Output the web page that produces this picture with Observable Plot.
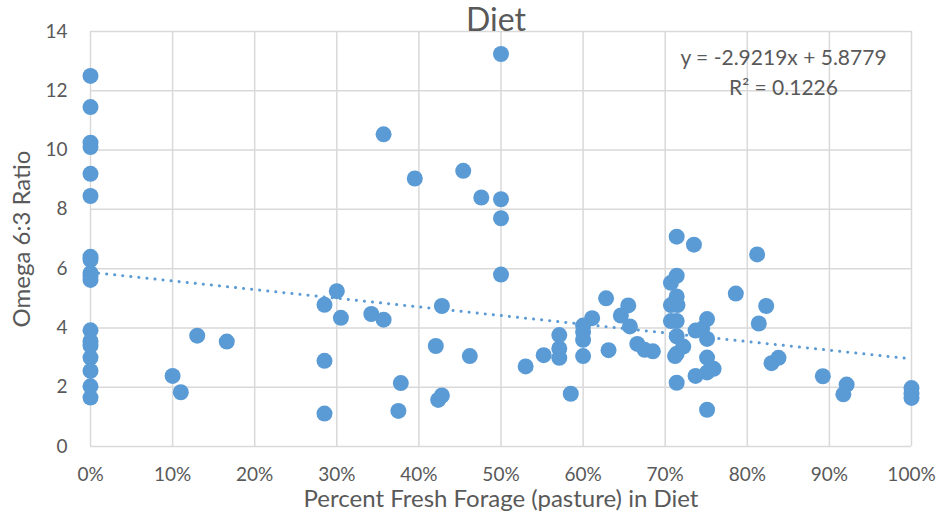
<!DOCTYPE html>
<html>
<head>
<meta charset="utf-8">
<script src="https://cdn.jsdelivr.net/npm/d3@7"></script>
<script src="https://cdn.jsdelivr.net/npm/@observablehq/plot@0.6"></script>
<style>
  html, body { margin: 0; padding: 0; background: #ffffff; }
  #chart { width: 940px; height: 514px; }
</style>
</head>
<body>
<div id="chart"></div>
<script>
// Fraction of fresh forage (pasture) in diet
const forage = [
  0,0,0,0,0,0,0,0,0,0,0,0,0,0,0,0,0,0,
  0.100,0.110,0.130,0.166,
  0.285,0.285,0.285,0.300,0.305,0.342,0.357,0.357,0.375,0.378,0.395,
  0.4206,0.4235,0.428,0.428,0.454,0.462,0.476,
  0.500,0.500,0.500,0.500,
  0.530,0.552,0.571,0.571,0.571,0.585,
  0.600,0.600,0.600,0.600,0.611,0.628,0.631,0.646,0.655,0.657,0.666,0.675,0.685,
  0.707,0.707,0.707,
  0.714,0.714,0.714,0.714,0.714,0.714,0.714,0.715,0.712,0.722,
  0.735,0.737,0.737,0.745,
  0.751,0.751,0.751,0.751,0.751,0.759,
  0.786,0.812,0.814,0.823,0.8295,0.838,0.892,0.917,0.921,
  1.0,1.0,1.0
];
// Omega 6:3 ratio
const ratio = [
  12.5,11.45,10.25,10.1,9.2,8.45,6.4,6.3,5.85,5.75,5.62,3.92,3.55,3.4,3.0,2.55,2.03,1.65,
  2.38,1.83,3.74,3.54,
  4.78,2.89,1.11,5.24,4.34,4.47,4.28,10.53,1.2,2.14,9.04,
  3.39,1.57,1.72,4.74,9.3,3.05,8.4,
  13.24,8.34,7.7,5.8,
  2.7,3.08,3.76,3.31,2.99,1.78,
  4.08,3.86,3.6,3.05,4.33,5.0,3.25,4.42,4.76,4.05,3.46,3.26,3.21,
  5.52,4.77,4.23,
  7.08,5.76,5.06,4.23,3.72,3.13,2.15,4.77,3.05,3.37,
  6.81,3.91,2.38,3.97,
  4.3,3.63,3.0,2.5,1.24,2.62,
  5.16,6.48,4.15,4.74,2.81,2.99,2.37,1.76,2.09,
  1.97,1.8,1.64
];
// Linear trendline (as reported on the chart)
const trendSlope = -2.9219;
const trendIntercept = 5.8779;
const trendR2 = 0.1226;
const xTicks = [0,0.1,0.2,0.3,0.4,0.5,0.6,0.7,0.8,0.9,1.0];
const yTicks = [0,2,4,6,8,10,12,14];
const titleText = "Diet";
const xLabel = "Percent Fresh Forage (pasture) in Diet";
const yLabel = "Omega 6:3 Ratio";

const points = forage.map((f, i) => ({x: f, y: ratio[i]}));
const trend = [0, 1].map(x => ({x, y: trendIntercept + trendSlope * x}));

const blue = "#5b9bd5";
const grey = "#595959";
const gridC = "#d9d9d9";

const chart = Plot.plot({
  width: 940,
  height: 514,
  marginLeft: 90,
  marginRight: 29,
  marginTop: 31,
  marginBottom: 68,
  style: {fontFamily: "Lato, 'Open Sans', sans-serif", background: "#ffffff", color: grey},
  x: {domain: [0, 1]},
  y: {domain: [0, 14]},
  marks: [
    Plot.gridX(xTicks, {stroke: gridC, strokeOpacity: 1, strokeWidth: 1.5}),
    Plot.gridY(yTicks, {stroke: gridC, strokeOpacity: 1, strokeWidth: 1.5}),
    Plot.axisX(xTicks, {tickSize: 0, tickPadding: 21, tickFormat: d3.format(".0%"), fontSize: 19, fill: grey, label: null}),
    Plot.axisY(yTicks, {tickSize: 0, tickPadding: 23, fontSize: 19, fill: grey, label: null}),
    Plot.line(trend, {x: "x", y: "y", stroke: blue, strokeWidth: 3, strokeDasharray: "0.1,8", strokeLinecap: "round"}),
    Plot.dot(points, {x: "x", y: "y", r: 8, fill: blue, stroke: "none"}),
    Plot.text([titleText], {frameAnchor: "top", dx: -5, dy: -11, lineAnchor: "middle", fontSize: 32, fill: grey}),
    Plot.text([xLabel], {frameAnchor: "bottom", dy: 53, lineAnchor: "middle", fontSize: 24, fill: grey}),
    Plot.text([yLabel], {frameAnchor: "left", dx: -68, rotate: -90, textAnchor: "middle", lineAnchor: "middle", fontSize: 24, fill: grey}),
    Plot.text([`y = ${trendSlope}x + ${trendIntercept}`], {frameAnchor: "top-right", dx: -128, dy: 27, textAnchor: "middle", lineAnchor: "middle", fontSize: 21, fill: grey}),
    Plot.text([`R² = ${trendR2}`], {frameAnchor: "top-right", dx: -128, dy: 57, textAnchor: "middle", lineAnchor: "middle", fontSize: 21, fill: grey})
  ]
});
document.getElementById("chart").append(chart);
</script>
</body>
</html>
